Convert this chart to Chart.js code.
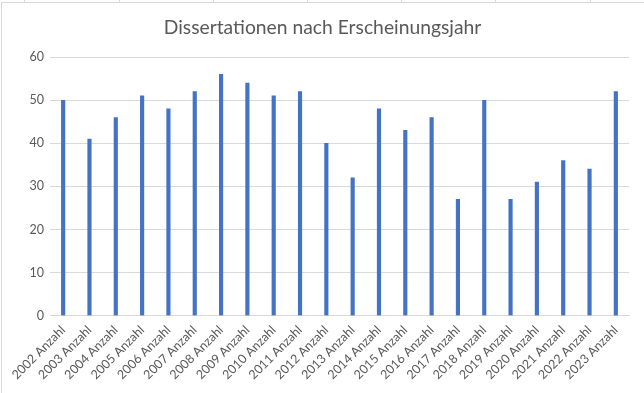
<!DOCTYPE html>
<html><head><meta charset="utf-8">
<script src="https://cdn.jsdelivr.net/npm/chart.js@4"></script>
<style>
html,body{margin:0;padding:0;background:#fff;}
#wrap{position:relative;width:644px;height:393px;overflow:hidden;}
#frame{position:absolute;left:1px;top:2px;width:660px;height:400px;border-left:1px solid #d9d9d9;border-top:1px solid #d9d9d9;box-sizing:border-box;}
.cell{position:absolute;top:0;width:1px;height:2px;background:#d9d9d9;}
canvas{position:absolute;left:0;top:0;}
</style></head>
<body>
<div id="wrap">
<div class="cell" style="left:24px"></div><div class="cell" style="left:119px"></div><div class="cell" style="left:213px"></div><div class="cell" style="left:307px"></div><div class="cell" style="left:401px"></div><div class="cell" style="left:495px"></div><div class="cell" style="left:590px"></div>
<div id="frame"></div>
<canvas id="c" width="644" height="393"></canvas>
</div>
<script>
const years = ["2002","2003","2004","2005","2006","2007","2008","2009","2010","2011","2012","2013","2014","2015","2016","2017","2018","2019","2020","2021","2022","2023"];
const categories = years.map(y => y + " Anzahl");
const anzahl = [50,41,46,51,48,52,56,54,51,52,40,32,48,43,46,27,50,27,31,36,34,52];
const yTicks = [0,10,20,30,40,50,60];
const titleText = "Dissertationen nach Erscheinungsjahr";

const FONT = "Lato, 'Open Sans', sans-serif";
new Chart(document.getElementById('c'), {
  type: 'bar',
  data: { labels: categories, datasets: [{ data: anzahl, backgroundColor: '#4472C4', barThickness: 3.5 }] },
  options: {
    responsive: false, animation: false,
    layout: { padding: { left: 16, right: 15, top: 0, bottom: 0 } },
    plugins: {
      legend: { display: false }, tooltip: { enabled: false },
      title: { display: true, text: titleText, color: '#595959',
        font: { family: FONT, size: 19.3, weight: 'normal' },
        padding: { top: 16, bottom: 18 } }
    },
    scales: {
      x: {
        offset: true,
        grid: { display: false, drawTicks: false },
        border: { display: true, color: '#d9d9d9' },
        ticks: { color: '#595959', font: { family: FONT, size: 12.5 }, minRotation: 45, maxRotation: 45, autoSkip: false, padding: 7 },
        afterFit: s => { s.height = 77.3; }
      },
      y: {
        min: 0, max: 60,
        afterBuildTicks: s => { s.ticks = yTicks.map(v => ({ value: v })); },
        grid: { color: '#d9d9d9', drawTicks: false },
        border: { display: false },
        ticks: { color: '#595959', font: { family: FONT, size: 12.5 }, padding: 6 },
        afterFit: s => { s.width = 34; }
      }
    }
  }
});
</script>
</body></html>
